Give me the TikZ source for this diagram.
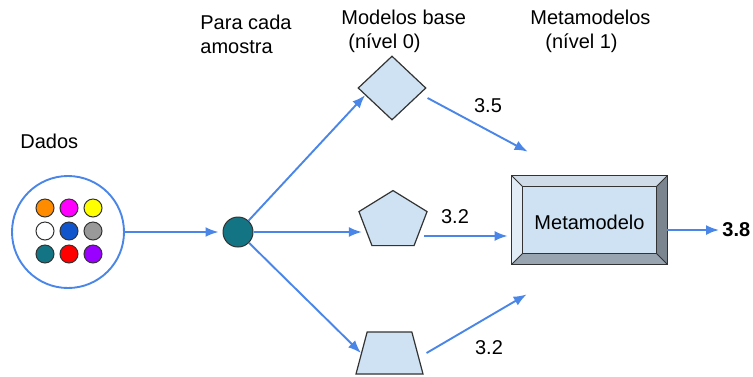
\documentclass[tikz,border=0pt]{standalone}
\usepackage{fontspec}
\setmainfont{Liberation Sans}
\usetikzlibrary{shapes.geometric,arrows.meta}
\definecolor{flowblue}{HTML}{4A86E8}
\definecolor{basefill}{HTML}{CFE2F3}
\definecolor{lineg}{HTML}{333333}
\tikzstyle{txt}=[font=\fontsize{10}{11.8}\selectfont,
                 inner sep=0pt]
\tikzstyle{dot}=[shape=circle,
                 draw=lineg,
                 line width=0.5pt,
                 minimum size=9pt,
                 inner sep=0pt]
\tikzstyle{bm}=[draw=lineg,
                fill=basefill,
                line width=0.6pt,
                inner sep=0pt]
\tikzstyle{flow}=[draw=flowblue,
                  line width=0.95pt,
                  -{Latex[length=6.5pt,width=5pt]}]

\begin{document}
\begin{tikzpicture}[x=0.5pt,y=-0.5pt]
\useasboundingbox (0,0) rectangle (753,376);

% headings
\node[txt,anchor=base west] (hdata) at (20,148) {Dados};
\node[txt,anchor=north west,align=left] (hsamp) at (200,15) {Para cada\\amostra};
\node[txt,anchor=north west,align=left] (hbase) at (341,10) {Modelos base\\\hspace*{3.5pt}(nível 0)};
\node[txt,anchor=north west,align=left] (hmeta) at (530,10) {Metamodelos\\\hspace*{7.5pt}(nível 1)};

% data set
\node[circle,draw=flowblue,line width=0.95pt,minimum size=56pt] (data) at (68,232) {};
\node[dot,fill={rgb,255:red,255;green,140;blue,0}] (d1) at (45,208) {};
\node[dot,fill={rgb,255:red,255;green,0;blue,255}] (d2) at (69,208) {};
\node[dot,fill={rgb,255:red,255;green,255;blue,0}] (d3) at (93,208) {};
\node[dot,fill=white] (d4) at (45,231) {};
\node[dot,fill={rgb,255:red,17;green,85;blue,204}] (d5) at (69,231) {};
\node[dot,fill={rgb,255:red,153;green,153;blue,153}] (d6) at (93,231) {};
\node[dot,fill={rgb,255:red,19;green,117;blue,132}] (d7) at (45,254) {};
\node[dot,fill={rgb,255:red,255;green,0;blue,0}] (d8) at (69,254) {};
\node[dot,fill={rgb,255:red,153;green,0;blue,255}] (d9) at (93,254) {};

% sample
\node[dot,minimum size=15pt,fill={rgb,255:red,19;green,117;blue,132}] (samp) at (238,232) {};

% base models
\node[bm,diamond,minimum width=34pt,minimum height=32pt] (base1) at (392,88) {};
\begin{scope}[shift={(393,221)},yscale=0.85]
\node[bm,regular polygon,regular polygon sides=5,minimum size=35.8pt,transform shape] (base2) at (0,0) {};
\end{scope}
\node[bm,trapezium,trapezium left angle=76,trapezium right angle=76,inner sep=1pt,
      trapezium stretches=true,minimum width=33.5pt,minimum height=21pt] (base3) at (389.5,353) {};

% metamodel
\node[minimum width=77.5pt,minimum height=44pt,inner sep=0pt] (meta) at (589.5,220) {};
\coordinate (iNW) at ([shift={(5.5pt,-5.5pt)}]meta.north west);
\coordinate (iNE) at ([shift={(-5.5pt,-5.5pt)}]meta.north east);
\coordinate (iSE) at ([shift={(-5.5pt,5.5pt)}]meta.south east);
\coordinate (iSW) at ([shift={(5.5pt,5.5pt)}]meta.south west);
\fill[fill={rgb,255:red,208;green,220;blue,232}] (meta.north west) -- (meta.north east) -- (iNE) -- (iNW) -- cycle;
\fill[fill={rgb,255:red,226;green,236;blue,246}] (meta.north west) -- (iNW) -- (iSW) -- (meta.south west) -- cycle;
\fill[fill={rgb,255:red,122;green,133;blue,144}] (meta.north east) -- (iNE) -- (iSE) -- (meta.south east) -- cycle;
\fill[fill={rgb,255:red,152;green,164;blue,176}] (meta.south west) -- (iSW) -- (iSE) -- (meta.south east) -- cycle;
\draw[bm] (iNW) rectangle (iSE);
\draw[lineg,line width=0.6pt] (meta.north west) rectangle (meta.south east);
\draw[lineg,line width=0.4pt] (meta.north west) -- (iNW) (meta.north east) -- (iNE)
      (meta.south east) -- (iSE) (meta.south west) -- (iSW);
\node[txt] (mtxt) at (589.5,222) {Metamodelo};

% result
\node[txt,anchor=west,font=\fontsize{10}{11.8}\selectfont\bfseries] (res) at (722,230) {3.8};

% scores
\node[txt] (s1) at (488,106) {3.5};
\node[txt] (s2) at (455,217) {3.2};
\node[txt] (s3) at (489,348) {3.2};

% paths
\path[flow,shorten >=2pt] (data.east) -- (data.east -| samp.west);
\path[flow] (samp) -- (base1.195);
\path[flow] (samp) -- (samp -| base2.west);
\path[flow] (samp) -- (base3.west);

% paths to the metamodel
\path[flow] ([shift={(0.5pt,-5pt)}]base1.east) -- ([shift={(8pt,12pt)}]meta.north west);
\path[flow,shorten >=2pt] ([yshift=-7.5pt]base2.east) -- ([yshift=-7.5pt]base2.east -| meta.west);
\path[flow] ([xshift=4.25pt]base3.east) -- ([shift={(7.5pt,-15pt)}]meta.south west);
\path[flow,shorten >=1.5pt] (meta.east |- res) -- (res.west);

\end{tikzpicture}
\end{document}
